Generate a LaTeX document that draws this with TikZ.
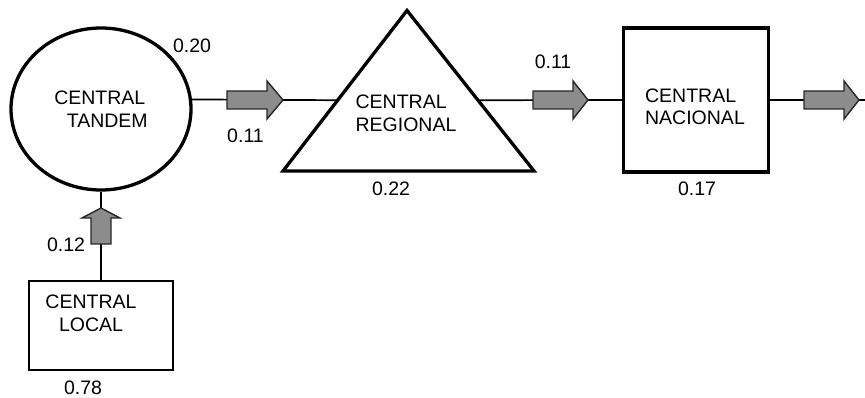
\documentclass[tikz,border=0pt]{standalone}
\usepackage{fontspec}
\setmainfont{Liberation Sans}
\usetikzlibrary{shapes.geometric,calc}
\definecolor{arrowgray}{RGB}{140,140,140}
\tikzset{
  every node/.style={font=\fontsize{19.5}{22.5}\selectfont},
  heavy/.style={draw,line width=3.3pt},
  link/.style={line width=1.7pt},
  pics/flowarrow/.style n args={4}{code={
    \draw[fill=arrowgray,draw=black!85,line width=1.4pt,line join=miter]
      (0,-#3) -- (#1,-#3) -- (#1,-#4) -- (#1+#2,0) -- (#1,#4) -- (#1,#3) -- (0,#3) -- cycle;
  }}
}

\begin{document}
\begin{tikzpicture}[x=1pt,y=-1pt]
\useasboundingbox (0,0) rectangle (865,398);
\node[ellipse,heavy,minimum width=180pt,minimum height=162pt,align=left,inner sep=0pt] (tandem) at (101,109) {CENTRAL\\\hspace*{12.6pt}TANDEM};
\coordinate (regtop) at (407,10.5);
\coordinate (regleft) at (283,171);
\coordinate (regright) at (534,171);
\draw[heavy,line join=miter] (regtop) -- (regleft) -- (regright) -- cycle;
\node[align=left] (regional) at (406,113.3) {CENTRAL\\REGIONAL};
\coordinate (regW) at ($(regleft)!0.441!(regtop)$);
\coordinate (regE) at ($(regright)!0.441!(regtop)$);
\node[rectangle,heavy,minimum width=144.5pt,minimum height=144pt] (nacional) at (696,100) {};
\node[align=left] (nacionaltext) at (695,107) {CENTRAL\\NACIONAL};
\node[rectangle,draw,line width=2.2pt,minimum width=143.5pt,minimum height=89pt] (local) at (101,325.5) {};
\node[align=center] (localtext) at (91,313.3) {CENTRAL\\LOCAL};
\coordinate (exit) at (865,100);

\draw[link] (tandem.6) -- (regW);
\draw[link] (regE) -- (nacional.west);
\draw[link] (nacional.east) -- (exit);
\draw[link] (local.north) -- (tandem.south);

\pic at (227,100) {flowarrow={40}{16}{9}{19}};
\pic at (533,100) {flowarrow={40}{15}{9}{19}};
\pic at (804,100) {flowarrow={40}{15}{9}{19}};
\pic[rotate=90] at (101,244) {flowarrow={26}{10}{10}{19}};

\node (v20) at (192,45.3) {0.20};
\node (v11a) at (245.5,135.3) {0.11};
\node (v22) at (391,189) {0.22};
\node (v11b) at (553,62) {0.11};
\node (v17) at (697,189) {0.17};
\node (v12) at (66,244.5) {0.12};
\node (v78) at (83,387.5) {0.78};
\end{tikzpicture}
\end{document}
